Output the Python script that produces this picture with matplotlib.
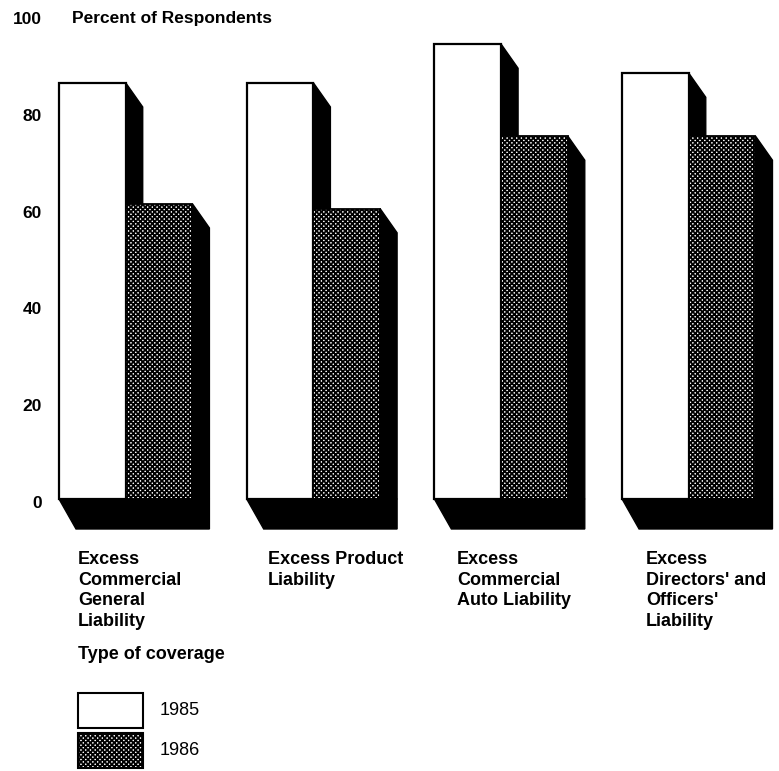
import matplotlib
matplotlib.use("Agg")
import matplotlib.pyplot as plt
from matplotlib.patches import Polygon, Rectangle
from matplotlib.transforms import ScaledTranslation

plt.rcParams['font.family'] = ['Liberation Sans', 'DejaVu Sans']
plt.rcParams['hatch.linewidth'] = 1.3

# Data
categories = [
    "Excess\nCommercial\nGeneral\nLiability",
    "Excess Product\nLiability",
    "Excess\nCommercial\nAuto Liability",
    "Excess\nDirectors' and\nOfficers'\nLiability",
]
values_1985 = [86, 86, 94, 88]
values_1986 = [61, 60, 75, 75]
years = ["1985", "1986"]
yticks = [0, 20, 40, 60, 80, 100]

W, H = 779, 771
fig = plt.figure(figsize=(W / 100, H / 100), dpi=100)

# axes placed in pixel terms
ax_left, ax_right = 50, 779
ax_top, ax_bottom = 15, 537.7
ax = fig.add_axes([ax_left / W, 1 - ax_bottom / H,
                   (ax_right - ax_left) / W, (ax_bottom - ax_top) / H])
ax.set_xlim(-0.135, 10.795)
ax.set_ylim(-8, 100)

group_gap = 2.814
bar_w = 1.0
dx = 0.255     # depth offset, x units
dy_side = 5.0  # depth drop on bar sides, percent units
dy_floor = 6.2 # depth drop of the floor
shade_hatch = 'xxxxxxx'

for i, (a, b) in enumerate(zip(values_1985, values_1986)):
    x0 = i * group_gap
    xa1 = x0 + bar_w
    xb1 = x0 + 2 * bar_w
    # floor slab under the pair of bars
    ax.add_patch(Polygon([(x0, 0), (x0 + dx, -dy_floor), (xb1 + dx, -dy_floor),
                          (xb1 + dx, 0)], closed=True, facecolor='black',
                         edgecolor='black', lw=1, zorder=1))
    # side faces
    ax.add_patch(Polygon([(xa1, a), (xa1 + dx, a - dy_side), (xa1 + dx, 0),
                          (xa1, 0)], closed=True, facecolor='black',
                         edgecolor='black', lw=1, zorder=1))
    ax.add_patch(Polygon([(xb1, b), (xb1 + dx, b - dy_side), (xb1 + dx, 0),
                          (xb1, 0)], closed=True, facecolor='black',
                         edgecolor='black', lw=1, zorder=1))

xs = [i * group_gap for i in range(len(categories))]
ax.bar(xs, values_1985, width=bar_w, align='edge', facecolor='white',
       edgecolor='black', linewidth=1.6, zorder=2)
ax.bar([x + bar_w for x in xs], values_1986, width=bar_w, align='edge',
       facecolor='white', edgecolor='black', hatch=shade_hatch, linewidth=1.3,
       zorder=3)

ax.set_yticks(yticks)
ax.set_yticklabels([str(t) for t in yticks], fontsize=12.5, fontweight='bold')
ax.tick_params(axis='y', length=0, pad=6)
shift = ScaledTranslation(0, -3 / 100, fig.dpi_scale_trans)
for lbl in ax.get_yticklabels():
    lbl.set_transform(lbl.get_transform() + shift)
ax.set_xticks([])
for s in ax.spines.values():
    s.set_visible(False)

fig.text(72 / W, 1 - 18 / H, "Percent of Respondents",
         fontsize=12.5, fontweight='bold', ha='left', va='center')

# category labels under each pair
label_px = [78, 268, 457, 646]
for lx, cat in zip(label_px, categories):
    fig.text(lx / W, 1 - 551 / H, cat, fontsize=13, fontweight='bold',
             ha='left', va='top', linespacing=1.27)

fig.text(78 / W, 1 - 646 / H, "Type of coverage", fontsize=13,
         fontweight='bold', ha='left', va='top')

# legend swatches
sw = [(693, 728), (733, 768)]
for (t, btm), yr, hatch in zip(sw, years, [None, shade_hatch]):
    fig.add_artist(Rectangle((78 / W, 1 - btm / H), 65 / W, (btm - t) / H,
                             transform=fig.transFigure, facecolor='white',
                             edgecolor='black', linewidth=1.5, hatch=hatch))
    fig.text(160 / W, 1 - (t + btm) / 2 / H, yr, fontsize=13,
             ha='left', va='center')

fig.savefig("out.png", dpi=100)
